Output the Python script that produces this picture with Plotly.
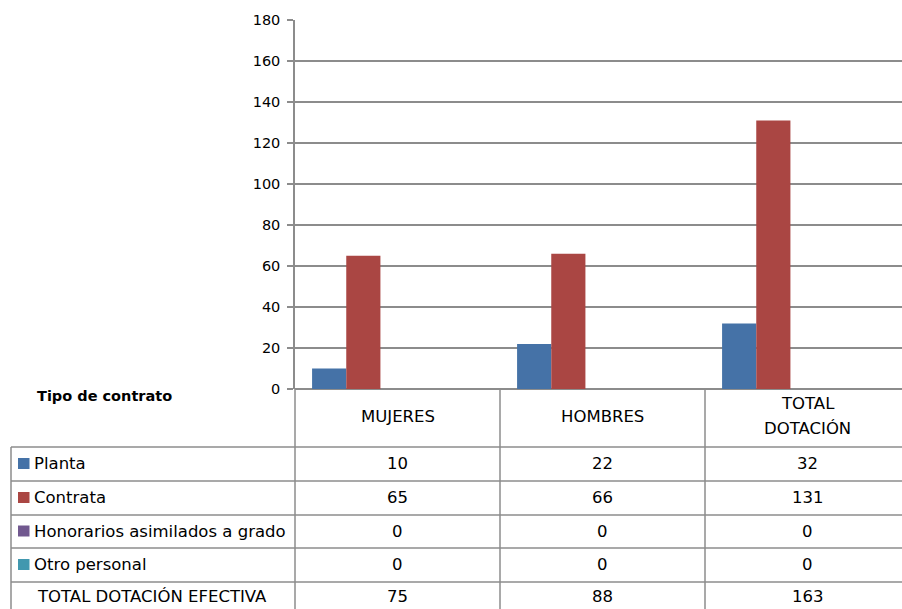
import plotly.graph_objects as go

categories = ["MUJERES", "HOMBRES", "TOTAL<br>DOTACIÓN"]
series_names = ["Planta", "Contrata", "Honorarios asimilados a grado", "Otro personal"]
planta = [10, 22, 32]
contrata = [65, 66, 131]
honorarios = [0, 0, 0]
otro = [0, 0, 0]
totales = [75, 88, 163]
total_label = "TOTAL DOTACIÓN EFECTIVA"
table_title = "Tipo de contrato"
y_ticks = [0, 20, 40, 60, 80, 100, 120, 140, 160, 180]

colors = ["#4572A7", "#AA4643", "#71588F", "#4198AF"]
series_values = [planta, contrata, honorarios, otro]

W, H = 902, 609
L, T, B = 295, 20, 220
PW = W - L
PH = H - T - B
CAT_PX = 205.0
x_pos = list(range(len(categories)))

def px_x(px):
    return (px - L) / PW

def px_y(py):
    return (H - B - py) / PH

fig = go.Figure()
bw = 1 / 6
for i, (name, vals, col) in enumerate(zip(series_names, series_values, colors)):
    fig.add_trace(go.Bar(
        x=x_pos, y=vals, name=name, width=bw, offset=-0.5 + bw / 2 + i * bw,
        marker=dict(color=col, line=dict(width=0)),
        showlegend=False,
    ))

grid = "#8c8c8c"
font_main = "DejaVu Sans"
FS = 16.5
shapes = []
annotations = []

row_tops = [447, 481, 515, 548, 582, 616]
col_edges_px = [295, 500, 705]
for cx in col_edges_px:
    shapes.append(dict(type="line", xref="paper", yref="paper",
                       x0=px_x(cx), x1=px_x(cx), y0=px_y(389), y1=px_y(620),
                       line=dict(color=grid, width=1.5)))
shapes.append(dict(type="line", xref="paper", yref="paper",
                   x0=px_x(11), x1=px_x(11), y0=px_y(447), y1=px_y(620),
                   line=dict(color=grid, width=1.5)))
for ry in row_tops[:-1]:
    shapes.append(dict(type="line", xref="paper", yref="paper",
                       x0=px_x(11), x1=px_x(W + 10), y0=px_y(ry), y1=px_y(ry),
                       line=dict(color=grid, width=1.5)))

for xi, cat in zip(x_pos, categories):
    lines = cat.split("<br>")
    n = len(lines)
    for k, ln in enumerate(lines):
        cy = 416 + (k - (n - 1) / 2) * 25
        annotations.append(dict(x=xi, y=px_y(cy), xref="x", yref="paper", text=ln,
                                showarrow=False, font=dict(family=font_main, size=FS, color="#000"),
                                xanchor="center", yanchor="middle"))

rows = list(zip(series_names, series_values, colors)) + [(total_label, totales, None)]
for r, (name, vals, col) in enumerate(rows):
    cy = (row_tops[r] + row_tops[r + 1]) / 2 - 0.5
    if r == len(rows) - 1:
        cy = row_tops[r] + 14
    if col is not None:
        shapes.append(dict(type="rect", xref="paper", yref="paper",
                           x0=px_x(18), x1=px_x(29.5), y0=px_y(cy - 5.5), y1=px_y(cy + 5.5),
                           fillcolor=col, line=dict(width=0)))
        tx = 32
    else:
        tx = 35
    annotations.append(dict(x=px_x(tx), y=px_y(cy), xref="paper", yref="paper", text=name,
                            showarrow=False, font=dict(family=font_main, size=FS, color="#000"),
                            xanchor="left", yanchor="middle"))
    for xi, v in zip(x_pos, vals):
        annotations.append(dict(x=xi, y=px_y(cy), xref="x", yref="paper", text=str(v),
                                showarrow=False, font=dict(family=font_main, size=FS, color="#000"),
                                xanchor="center", yanchor="middle"))

annotations.append(dict(x=px_x(35), y=px_y(396), xref="paper", yref="paper", text="<b>" + table_title + "</b>",
                        showarrow=False, font=dict(family=font_main, size=14.5, color="#000"),
                        xanchor="left", yanchor="middle"))

fig.update_layout(
    width=W, height=H,
    margin=dict(l=L, r=0, t=T, b=B, pad=0),
    paper_bgcolor="white", plot_bgcolor="white",
    barmode="overlay",
    shapes=shapes, annotations=annotations,
    xaxis=dict(range=[-0.5, -0.5 + PW / CAT_PX], showticklabels=False, showgrid=False,
               zeroline=False, showline=False, ticks="", fixedrange=True),
    yaxis=dict(range=[0, 180], tickvals=y_ticks, showgrid=True, gridcolor=grid, gridwidth=1.5,
               showline=True, linecolor=grid, linewidth=1.5, ticks="outside", ticklen=6,
               tickcolor=grid, tickwidth=1.5, zeroline=True, zerolinecolor=grid, zerolinewidth=1.5,
               tickfont=dict(family=font_main, size=14.5, color="#000"), ticklabelstandoff=4,
               fixedrange=True),
    font=dict(family=font_main),
)

fig.write_html("out.html", config={"displayModeBar": False},
               post_script="document.body.style.margin='0';document.body.style.overflow='hidden';")
